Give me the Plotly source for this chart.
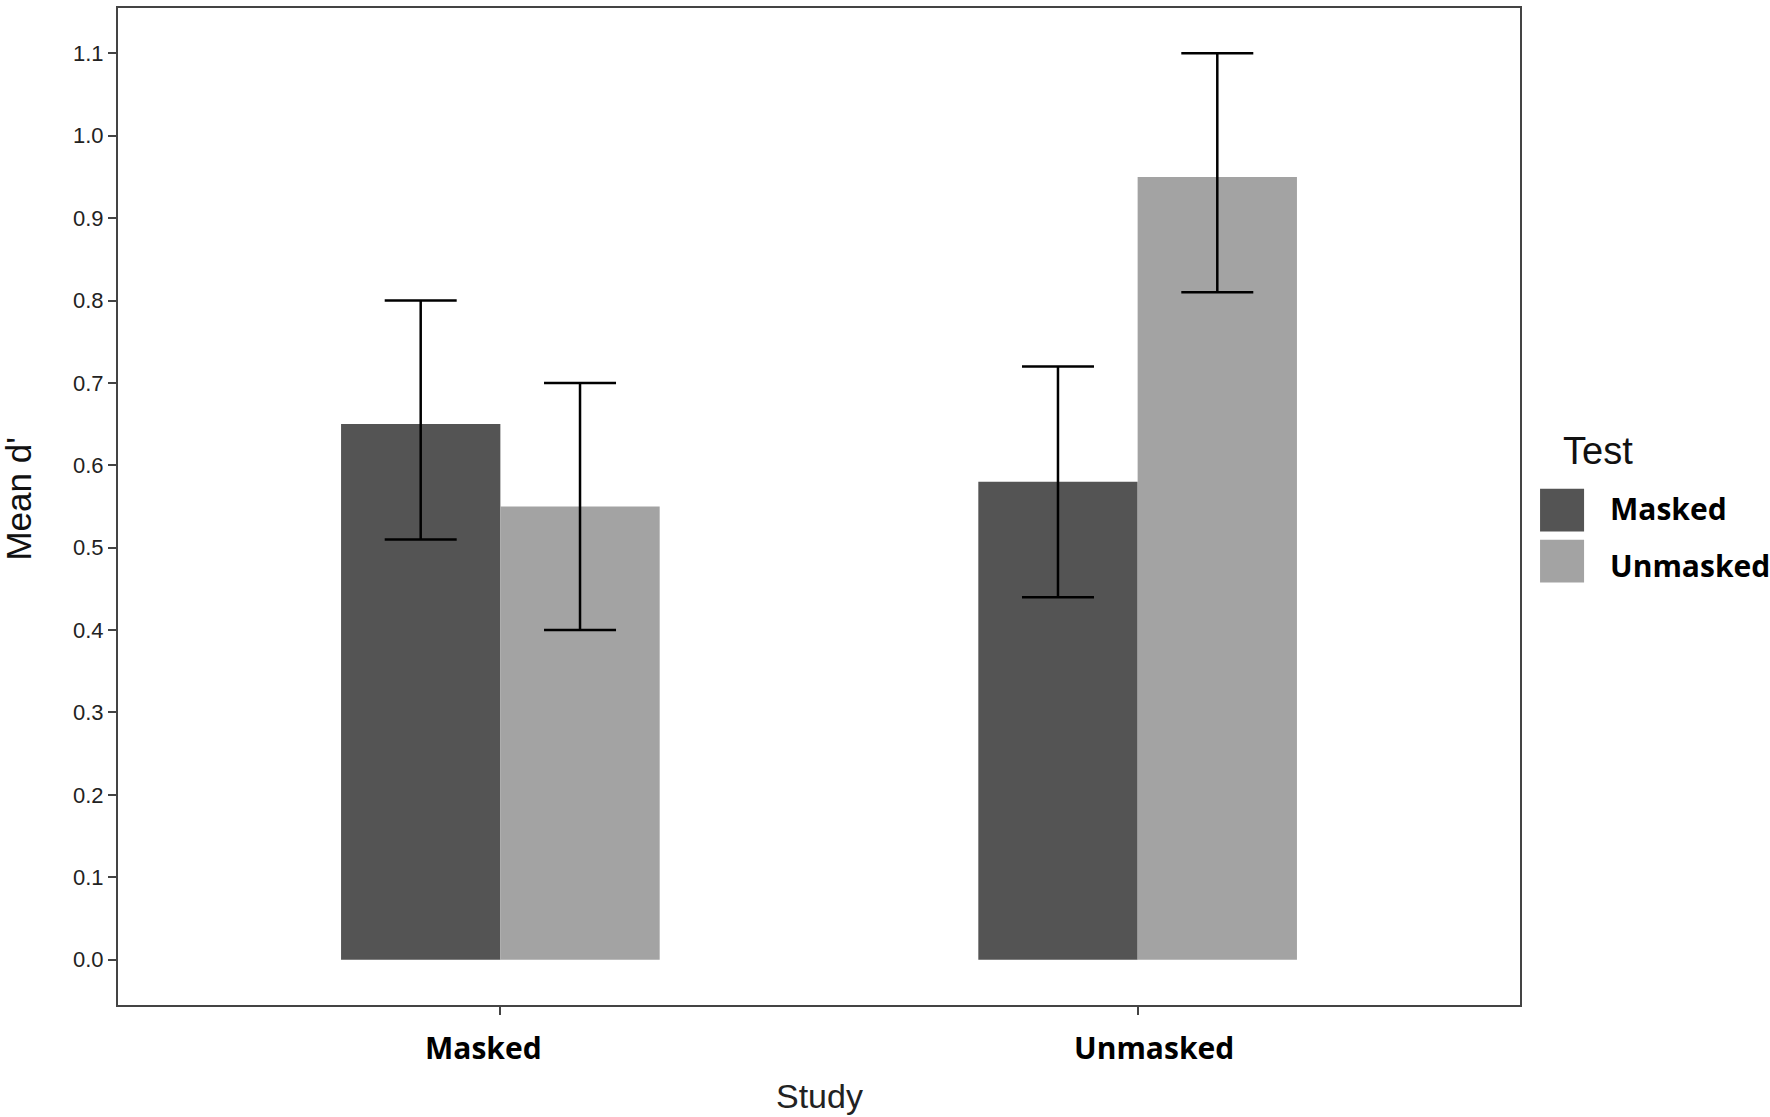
import plotly.graph_objects as go

studies = ["Masked", "Unmasked"]
tests = ["Masked", "Unmasked"]
means = {"Masked": [0.65, 0.58], "Unmasked": [0.55, 0.95]}
lower = {"Masked": [0.51, 0.44], "Unmasked": [0.40, 0.81]}
upper = {"Masked": [0.80, 0.72], "Unmasked": [0.70, 1.10]}
colors = {"Masked": "#545454", "Unmasked": "#a3a3a3"}
yticks = [0.0, 0.1, 0.2, 0.3, 0.4, 0.5, 0.6, 0.7, 0.8, 0.9, 1.0, 1.1]
label_shift = {"Masked": -17, "Unmasked": 16}

fig = go.Figure()
for t in tests:
    m = means[t]
    fig.add_trace(go.Bar(
        x=studies, y=m, name=t, marker=dict(color=colors[t], line=dict(width=0)),
        error_y=dict(type="data", symmetric=False,
                     array=[u - v for u, v in zip(upper[t], m)],
                     arrayminus=[v - l for v, l in zip(m, lower[t])],
                     color="black", thickness=2.5, width=36),
        showlegend=False,
    ))

fig.update_layout(
    width=1770, height=1117,
    margin=dict(l=118, r=250, t=6, b=112),
    plot_bgcolor="white", paper_bgcolor="white",
    barmode="group", bargap=0.5, bargroupgap=0,
    font=dict(family="Liberation Sans, Arial", color="#222"),
)
fig.update_xaxes(
    range=[-0.6, 1.6], showline=True, linecolor="#444", linewidth=2, mirror=True,
    ticks="outside", ticklen=8, tickcolor="#444", tickwidth=2,
    showticklabels=False, showgrid=False,
)
fig.update_yaxes(
    range=[-0.055, 1.155], tickvals=yticks, tickformat=".1f",
    showline=True, linecolor="#444", linewidth=2, mirror=True,
    ticks="outside", ticklen=8, tickcolor="#444", tickwidth=2,
    tickfont=dict(family="Liberation Sans, Arial", size=22, color="#222"),
    showgrid=False, zeroline=False,
)

# category labels
for s in studies:
    fig.add_annotation(text=s, xref="x", yref="paper", x=s, y=-0.043, xshift=label_shift[s],
                       xanchor="center", yanchor="middle", showarrow=False,
                       font=dict(family="Open Sans", size=30, color="black", weight="bold"))

# axis titles
fig.add_annotation(text="Study", xref="paper", yref="paper", x=0.5, y=-0.091,
                   xanchor="center", yanchor="middle", showarrow=False,
                   font=dict(family="Liberation Sans, Arial", size=34, color="#222"))
fig.add_annotation(text="Mean d'", xref="paper", yref="paper", x=-0.0706, y=0.507,
                   xanchor="center", yanchor="middle", textangle=-90, showarrow=False,
                   font=dict(family="Liberation Sans, Arial", size=35, color="#111"))

# legend (drawn manually)
fig.add_annotation(text="Test", xref="paper", yref="paper", x=1.0289, y=0.556,
                   xanchor="left", yanchor="middle", showarrow=False,
                   font=dict(family="Liberation Sans, Arial", size=38, color="#111"))
key_box = [(0.4748, 0.5177), (0.4237, 0.4667)]
text_y = [0.4983, 0.4406]
for t, (y0, y1), ty in zip(tests, key_box, text_y):
    fig.add_shape(type="rect", xref="paper", yref="paper",
                  x0=1.0143, x1=1.0457, y0=y0, y1=y1,
                  fillcolor=colors[t], line=dict(width=0))
    fig.add_annotation(text=t, xref="paper", yref="paper", x=1.0628, y=ty,
                       xanchor="left", yanchor="middle", showarrow=False,
                       font=dict(family="Open Sans", size=30, color="black", weight="bold"))

fig.write_html("out.html", config={"displayModeBar": False},
               post_script="document.body.style.margin='0px';")
